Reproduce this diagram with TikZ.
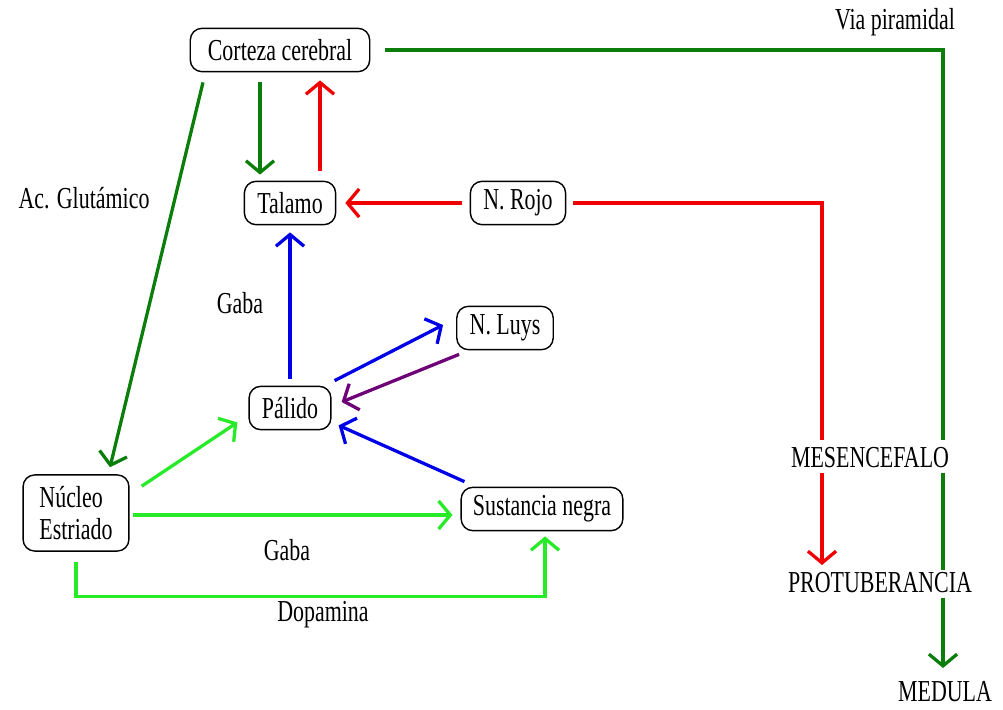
\documentclass[tikz,border=0pt]{standalone}
\usepackage{fontspec}
\setmainfont{Liberation Serif}[FakeStretch=0.72]
\usetikzlibrary{arrows.meta}
\definecolor{vdark}{RGB}{10,125,10}
\definecolor{vlight}{RGB}{40,235,40}
\definecolor{rojo}{RGB}{240,0,0}
\definecolor{azul}{RGB}{0,0,230}
\definecolor{morado}{RGB}{110,0,120}
\begin{document}
\begin{tikzpicture}[x=0.03cm,y=-0.03cm,
  font=\fontsize{26}{28}\selectfont,
  caja/.style={draw,rounded corners=10pt,line width=1.2pt,inner xsep=11pt,minimum height=37pt},
  via/.style={line width=2.8pt},
  flecha/.style={via,-{Straight Barb[length=10pt,width=24pt]}}]
\useasboundingbox (0,0) rectangle (1003,710);

\node[caja,inner xsep=15pt] (corteza) at (280,50) {Corteza cerebral};
\node[caja] (talamo) at (290,203) {Talamo};
\node[caja] (rojo) at (518,203) {N. Rojo};
\node[caja] (luys) at (505,328) {N. Luys};
\node[caja] (palido) at (290,408) {Pálido};
\node[caja,align=left,minimum height=65pt,inner xsep=14pt] (nucleo) at (76,513) {Núcleo\\Estriado};
\node[caja,inner xsep=10pt] (negra) at (542,509) {Sustancia negra};

\node (mes) at (870,458) {MESENCEFALO};
\node (prot) at (880,583) {PROTUBERANCIA};
\node (medula) at (945,692) {MEDULA};

\node at (895,22) {Via piramidal};
\node at (84,198) {Ac. Glutámico};
\node at (240,303) {Gaba};
\node at (287,550) {Gaba};
\node at (323,615) {Dopamina};

% corteza
\draw[flecha,vdark] ([shift={(-77,10)}]corteza.south) -- ([shift={(34,-7)}]nucleo.north);
\draw[flecha,vdark] ([shift={(-20,10)}]corteza.south) -- ([shift={(-30,-6)}]talamo.north);
\draw[flecha,rojo] ([shift={(30,-10)}]talamo.north) -- ([shift={(40,8)}]corteza.south);
\draw[via,vdark] ([shift={(15,0)}]corteza.east) -| ([shift={(73,-18)}]mes.center);
\draw[via,vdark] ([shift={(73,15)}]mes.center) -- ([shift={(63,-13)}]prot.center);
\draw[flecha,vdark] ([shift={(63,15)}]prot.center) -- ([shift={(-2,-24)}]medula.center);

% n. rojo
\draw[flecha,rojo] ([shift={(-8,0)}]rojo.west) -- ([shift={(9,0)}]talamo.east);
\draw[via,rojo] ([shift={(7,0)}]rojo.east) -| ([shift={(-48,-18)}]mes.center);
\draw[flecha,rojo] ([shift={(-48,15)}]mes.center) -- ([shift={(-58,-18)}]prot.center);

% palido
\draw[flecha,azul] ([shift={(0,-7)}]palido.north) -- ([shift={(0,7)}]talamo.south);
\draw[flecha,azul] ([shift={(3,-5)}]palido.north east) -- ([shift={(-13,-3)}]luys.west);
\draw[flecha,morado] ([shift={(3,4)}]luys.south west) -- ([shift={(10,-6)}]palido.east);
\draw[flecha,azul] ([shift={(4,-5)}]negra.north west) -- ([shift={(7,-5)}]palido.south east);

% nucleo estriado
\draw[flecha,vlight] ([shift={(12,12)}]nucleo.north east) -- ([shift={(-11,-8)}]palido.south west);
\draw[flecha,vlight] ([shift={(3,2)}]nucleo.east) -- ([shift={(-8,6)}]negra.west);
\draw[flecha,vlight] ([shift={(0,10)}]nucleo.south) -- ++(0,35) -| ([shift={(3,5)}]negra.south);
\end{tikzpicture}
\end{document}
